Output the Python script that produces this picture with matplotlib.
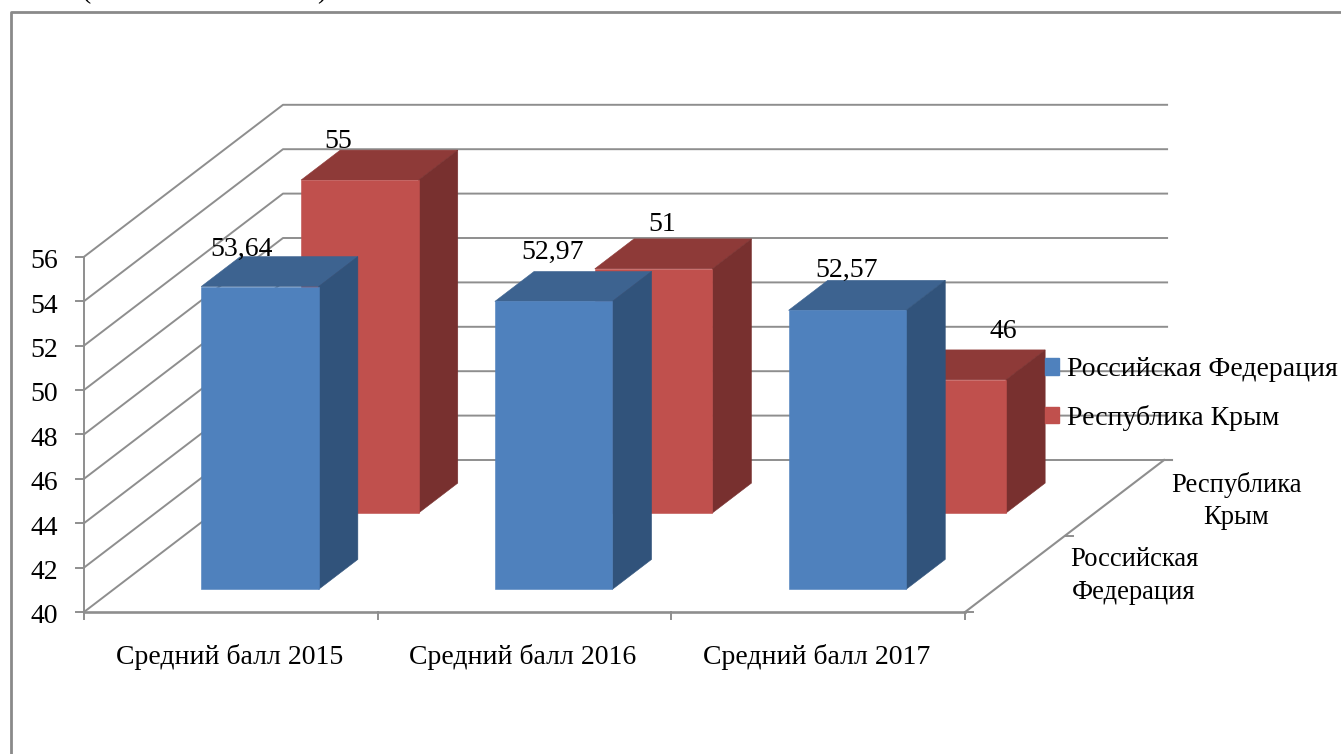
"""
Объёмная столбчатая диаграмма: средний балл 2015-2017.
"""
import matplotlib
matplotlib.use("Agg")
import matplotlib.pyplot as plt
from matplotlib.lines import Line2D
from matplotlib.patches import Patch

plt.rcParams["font.family"] = ["Liberation Serif", "DejaVu Serif"]

categorias = ["Средний балл 2015", "Средний балл 2016", "Средний балл 2017"]
rf = [53.64, 52.97, 52.57]
krym = [55, 51, 46]
rf_labels = ["53,64", "52,97", "52,57"]
krym_labels = ["55", "51", "46"]
ticks = [40, 42, 44, 46, 48, 50, 52, 54, 56]

W, H = 1341, 754
X0, Y0 = 84, 612      # pixel of category 0 / value 40 on the front edge
SX, SY = 293.7, 22.2  # pixels per category / per value unit
DX, DY = 199 / SX, 152 / SY  # shift of the full depth in data units
GRID = "#8e8e8e"
FS = 20


def proy(x, v, d):
    """Oblique projection: category x, value v, depth d (0 front, 1 back)."""
    return x + d * DX, v + d * DY


def caja(ax, i, valor, d0, d1, colores, zorder):
    """Draws one bar as three faces."""
    x0, x1 = i + 0.298, i + 0.698
    front, top, side = colores
    cara = [(x0, 40, d0), (x1, 40, d0), (x1, valor, d0), (x0, valor, d0)]
    tapa = [(x0, valor, d0), (x1, valor, d0), (x1, valor, d1), (x0, valor, d1)]
    lado = [(x1, 40, d0), (x1, 40, d1), (x1, valor, d1), (x1, valor, d0)]
    for pts, c in ((tapa, top), (lado, side), (cara, front)):
        xy = [proy(*p) for p in pts]
        ax.fill([p[0] for p in xy], [p[1] for p in xy], color=c, lw=0.4, zorder=zorder)


fig = plt.figure(figsize=(W / 100, H / 100), dpi=100)
ax = fig.add_axes([0, 0, 1, 1])
ax.set_xlim(-X0 / SX, (W - X0) / SX)
ax.set_ylim(40 - (H - Y0) / SY, 40 + Y0 / SY)
ax.axis("off")

# рамка
fig.add_artist(Line2D([10.5 / W, 10.5 / W, 1], [0, 1 - 12 / H, 1 - 12 / H],
                      color="#8a8a8a", lw=2))
fig.text(86 / W, 1 + 8 / H, "(", fontsize=FS, ha="center", va="center")
fig.text(322 / W, 1 + 8 / H, ")", fontsize=FS, ha="center", va="center")

# стенки и сетка
pared_x1 = len(categorias)
for t in ticks:
    xa, ya = proy(0, t, 0)
    xb, yb = proy(0, t, 1)
    xc, yc = proy(pared_x1, t, 1)
    ax.plot([xa, xb, xc + 3 / SX], [ya, yb, yc], color=GRID, lw=1.4, zorder=1)
    ax.plot([xa - 8 / SX, xa], [ya, ya], color=GRID, lw=1.4, zorder=1)
    ax.annotate(str(t), (xa, ya), xytext=(-26, -5), textcoords="offset pixels",
                fontsize=FS, ha="right", va="center", zorder=5)

ax.plot([0, 0], [40, ticks[-1]], color=GRID, lw=1.4, zorder=1)
ax.plot([0, pared_x1], [40, 40], color=GRID, lw=1.9, zorder=1)
xa, ya = proy(pared_x1, 40, 0)
xb, yb = proy(pared_x1, 40, 1)
ax.plot([xa, xb], [ya, yb], color=GRID, lw=1.5, zorder=1)
ax.plot([xb, xb + 8 / SX], [yb, yb], color=GRID, lw=1.5, zorder=1)

# засечки
for i in range(len(categorias) + 1):
    ax.plot([i, i], [40, 40 - 7 / SY], color=GRID, lw=1.4, zorder=1)
for d in (0, 0.5):
    xm, ym = proy(pared_x1, 40, d)
    ax.plot([xm, xm + 8 / SX], [ym, ym], color=GRID, lw=1.4, zorder=1)

# столбцы
AZUL = ("#4f81bd", "#3d6390", "#31537b")
ROJO = ("#c0504d", "#8e3a38", "#78302f")
for i, v in enumerate(krym):
    caja(ax, i, v, 0.651, 0.848, ROJO, 3)
for i, v in enumerate(rf):
    caja(ax, i, v, 0.149, 0.346, AZUL, 4)

# подписи данных (смещения в пикселях от центра передней грани)
off_rf = [(-19, 37), (-1, 49), (-1, 40)]
off_krym = [(-22, 39), (8, 44), (56, 48)]
for serie, d, textos, offs in ((rf, 0.149, rf_labels, off_rf),
                               (krym, 0.651, krym_labels, off_krym)):
    for i, v in enumerate(serie):
        ax.annotate(textos[i], proy(i + 0.499, v, d), xytext=offs[i],
                    textcoords="offset pixels", fontsize=FS,
                    ha="center", va="center", zorder=6)

# подписи категорий
for i, c in enumerate(categorias):
    ax.text(i + 0.5 - 0.005, 40 - 45 / SY, c, fontsize=FS, ha="center", va="center")

# подписи оси глубины
ax.text(1134 / SX - X0 / SX, 40 + (Y0 - 576) / SY, "Российская\nФедерация", fontsize=FS - 0.8,
        ha="center", va="center", linespacing=1.4)
ax.text(1236 / SX - X0 / SX, 40 + (Y0 - 501) / SY, "Республика\nКрым", fontsize=FS - 0.8,
        ha="center", va="center", linespacing=1.4)

# легенда
ley = [Patch(color=AZUL[0], label="Российская Федерация"),
       Patch(color=ROJO[0], label="Республика Крым")]
ax.legend(handles=ley, frameon=False, fontsize=FS, loc="center left",
          bbox_to_anchor=(1045 / W, 1 - 394 / H), bbox_transform=fig.transFigure,
          handlelength=0.52, handleheight=0.52, handletextpad=0.26,
          labelspacing=0.8, borderpad=0, borderaxespad=0)

fig.savefig("out.png", dpi=100)
